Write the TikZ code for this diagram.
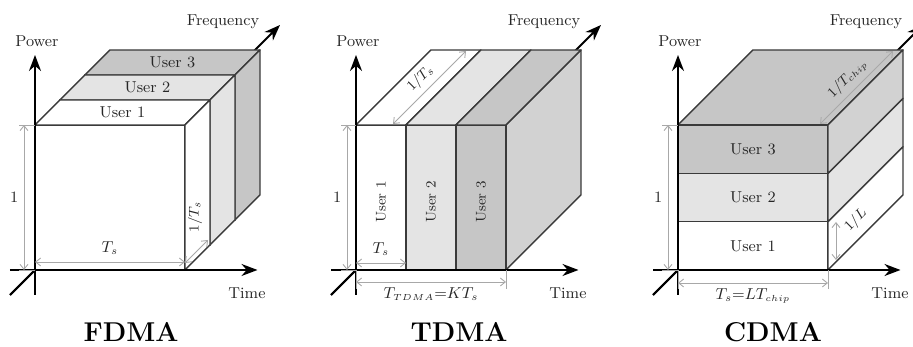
\documentclass[tikz,border=0pt]{standalone}
\usepackage{xcolor}
\usetikzlibrary{arrows.meta, calc}
\definecolor{edge}{HTML}{3A3A3A}
\definecolor{dimgray}{HTML}{A8A8A8}
\definecolor{userA}{HTML}{FFFFFF}
\definecolor{userB}{HTML}{E4E4E4}
\definecolor{userC}{HTML}{C6C6C6}
\definecolor{sideC}{HTML}{D2D2D2}
\tikzset{
  axis/.style={-{Stealth[length=3.2mm,width=2.4mm]}, line width=1.1pt, draw=black},
  face/.style={draw=edge, line width=0.8pt, line join=round},
  dim/.style={{Straight Barb[length=1mm,width=1.6mm]}-{Straight Barb[length=1mm,width=1.6mm]}, draw=dimgray, line width=0.5pt},
  ext/.style={draw=dimgray, line width=0.5pt},
  label/.style={font=\small, text=black!85, inner sep=1pt},
  minor/.style={label, font=\footnotesize},
  title/.style={font=\fontsize{15.5}{18}\selectfont\bfseries},
}
\begin{document}
\begin{tikzpicture}
  \useasboundingbox (0,0) rectangle (18.26,6.94);

  \begin{scope}[shift={(0.70,1.54)}]
    \coordinate (f-o) at (0,0);
    \coordinate (f-pw) at (0,4.3);
    \coordinate (f-tm) at (4.45,0);
    \coordinate (f-fq) at (4.9,4.9);
    \coordinate (f-a) at (3,0);
    \coordinate (f-b) at (3,2.9);
    \coordinate (f-c) at (0,2.9);
    \draw[axis] (-0.5,-0.5) -- (f-fq);
    \foreach \k/\col in {2/userC, 1/userB, 0/userA} {
      \begin{scope}[shift={(0.5*\k,0.5*\k)}]
        \filldraw[face, fill=\col] (0,0) rectangle (3,2.9);
        \filldraw[face, fill=\col] (0,2.9) -- (3,2.9) -- (3.5,3.4) -- (0.5,3.4) -- cycle;
        \filldraw[face, fill=\col] (3,0) -- (3.5,0.5) -- (3.5,3.4) -- (3,2.9) -- cycle;
      \end{scope}
    }
    \draw[axis, -] (-0.5,-0.5) -- (f-o);
    \node[label] (f-u1) at (1.75,3.15) {User 1};
    \node[label] (f-u2) at (2.25,3.65) {User 2};
    \node[label] (f-u3) at (2.75,4.15) {User 3};

    \draw[axis] (0,-0.5) -- (f-pw);
    \draw[axis] (-0.5,0) -- (f-tm);
    \node[label] (f-power) at (0.04,4.58) {Power};
    \node[label] (f-time) at (4.24,-0.46) {Time};
    \node[label] (f-freq) at (3.76,4.96) {Frequency};

    \draw[ext] (f-c) -- ++(-0.32,0);
    \draw[ext] (f-o) -- ++(-0.32,0);
    \draw[dim] ($(f-o)+(-0.22,0)$) -- ($(f-c)+(-0.22,0)$) node[midway, left=2pt, label] (f-one) {1};
    \draw[dim] ($(f-o)+(0,0.16)$) -- ($(f-a)+(0,0.16)$) node[midway, above=3pt, label] (f-ts) {$T_s$};
    \draw[dim] ($(f-a)+(0,0.14)$) -- ($(f-a)+(0.46,0.6)$);
    \node[minor, rotate=90] (f-its) at (3.2,1.06) {$1/T_s$};
    \node[title] (fdma) at (1.92,-1.24) {FDMA};
  \end{scope}

  \begin{scope}[shift={(7.12,1.54)}]
    \coordinate (t-o) at (0,0);
    \coordinate (t-pw) at (0,4.3);
    \coordinate (t-tm) at (4.45,0);
    \coordinate (t-fq) at (4.9,4.9);
    \coordinate (t-a) at (3,0);
    \coordinate (t-s) at (1,0);
    \coordinate (t-c) at (0,2.9);
    \draw[axis] (-0.5,-0.5) -- (t-fq);
    \filldraw[face, fill=sideC] (3,0) -- (4.5,1.5) -- (4.5,4.4) -- (3,2.9) -- cycle;
    \foreach \k/\col in {0/userA, 1/userB, 2/userC} {
      \filldraw[face, fill=\col] (\k,0) rectangle ++(1,2.9);
      \filldraw[face, fill=\col] (\k,2.9) -- ++(1,0) -- ++(1.5,1.5) -- ++(-1,0) -- cycle;
    }
    \draw[axis, -] (-0.5,-0.5) -- (t-o);
    \node[minor, rotate=90] (t-u1) at (0.5,1.36) {User 1};
    \node[minor, rotate=90] (t-u2) at (1.5,1.36) {User 2};
    \node[minor, rotate=90] (t-u3) at (2.5,1.36) {User 3};

    \draw[axis] (0,-0.5) -- (t-pw);
    \draw[axis] (-0.5,0) -- (t-tm);
    \node[label] (t-power) at (0.04,4.58) {Power};
    \node[label] (t-time) at (4.24,-0.46) {Time};
    \node[label] (t-freq) at (3.76,4.96) {Frequency};

    \draw[ext] (t-c) -- ++(-0.3,0);
    \draw[ext] (t-o) -- ++(-0.3,0);
    \draw[ext] (t-a) -- ++(0,-0.38);
    \draw[ext] (t-o) -- ++(0,-0.38);
    \draw[dim] ($(t-o)+(-0.18,0)$) -- ($(t-c)+(-0.18,0)$) node[midway, left=2pt, label] (t-one) {1};
    \draw[dim] ($(t-o)+(0,0.14)$) -- ($(t-s)+(0,0.14)$) node[midway, above=3pt, label] (t-ts) {$T_s$};
    \draw[dim] ($(t-o)+(0,-0.24)$) -- ($(t-a)+(0,-0.24)$) node[midway, below=2pt, label] (t-tt) {$T_{\scriptscriptstyle TDMA}$=$KT_s$};
    \draw[dim] (0.74,2.92) -- (2.2,4.38) node[midway, sloped, above=2pt, minor] (t-its) {$1/T_s$};
    \node[title] (tdma) at (2.06,-1.24) {TDMA};
  \end{scope}

  \begin{scope}[shift={(13.56,1.54)}]
    \coordinate (c-o) at (0,0);
    \coordinate (c-pw) at (0,4.3);
    \coordinate (c-tm) at (4.45,0);
    \coordinate (c-fq) at (4.9,4.9);
    \coordinate (c-a) at (3,0);
    \coordinate (c-c) at (0,2.9);
    \draw[axis] (-0.5,-0.5) -- (c-fq);
    \filldraw[face, fill=userC] (0,2.9) -- (3,2.9) -- (4.5,4.4) -- (1.5,4.4) -- cycle;
    \foreach \k/\col/\sd in {0/userA/userA, 1/userB/userB, 2/userC/sideC} {
      \filldraw[face, fill=\col] (0,0.9667*\k) rectangle ++(3,0.9667);
      \filldraw[face, fill=\sd] (3,0.9667*\k) -- ++(1.5,1.5) -- ++(0,0.9667) -- ++(-1.5,-1.5) -- cycle;
    }
    \draw[axis, -] (-0.5,-0.5) -- (c-o);
    \node[label] (c-u1) at (1.5,0.48) {User 1};
    \node[label] (c-u2) at (1.5,1.45) {User 2};
    \node[label] (c-u3) at (1.5,2.42) {User 3};

    \draw[axis] (0,-0.5) -- (c-pw);
    \draw[axis] (-0.5,0) -- (c-tm);
    \node[label] (c-power) at (0.04,4.58) {Power};
    \node[label] (c-time) at (4.24,-0.46) {Time};
    \node[label] (c-freq) at (3.76,4.96) {Frequency};

    \draw[ext] (c-c) -- ++(-0.32,0);
    \draw[ext] (c-o) -- ++(-0.32,0);
    \draw[ext] (c-a) -- ++(0,-0.38);
    \draw[ext] (c-o) -- ++(0,-0.38);
    \draw[dim] ($(c-o)+(-0.2,0)$) -- ($(c-c)+(-0.2,0)$) node[midway, left=2pt, label] (c-one) {1};
    \draw[dim] ($(c-o)+(0,-0.26)$) -- ($(c-a)+(0,-0.26)$) node[midway, below=2pt, label] (c-tl) {$T_s$=$LT_{\scriptscriptstyle chip}$};
    \draw[dim] (2.84,2.92) -- (4.3,4.38) node[midway, sloped, above=2pt, minor] (c-itc) {$1/T_{\scriptscriptstyle chip}$};
    \draw[dim] (3.16,0.96) -- (3.16,0.2);
    \node[minor, rotate=45] (c-il) at (3.56,1.0) {$1/L$};
    \node[title] (cdma) at (1.9,-1.24) {CDMA};
  \end{scope}
\end{tikzpicture}
\end{document}
